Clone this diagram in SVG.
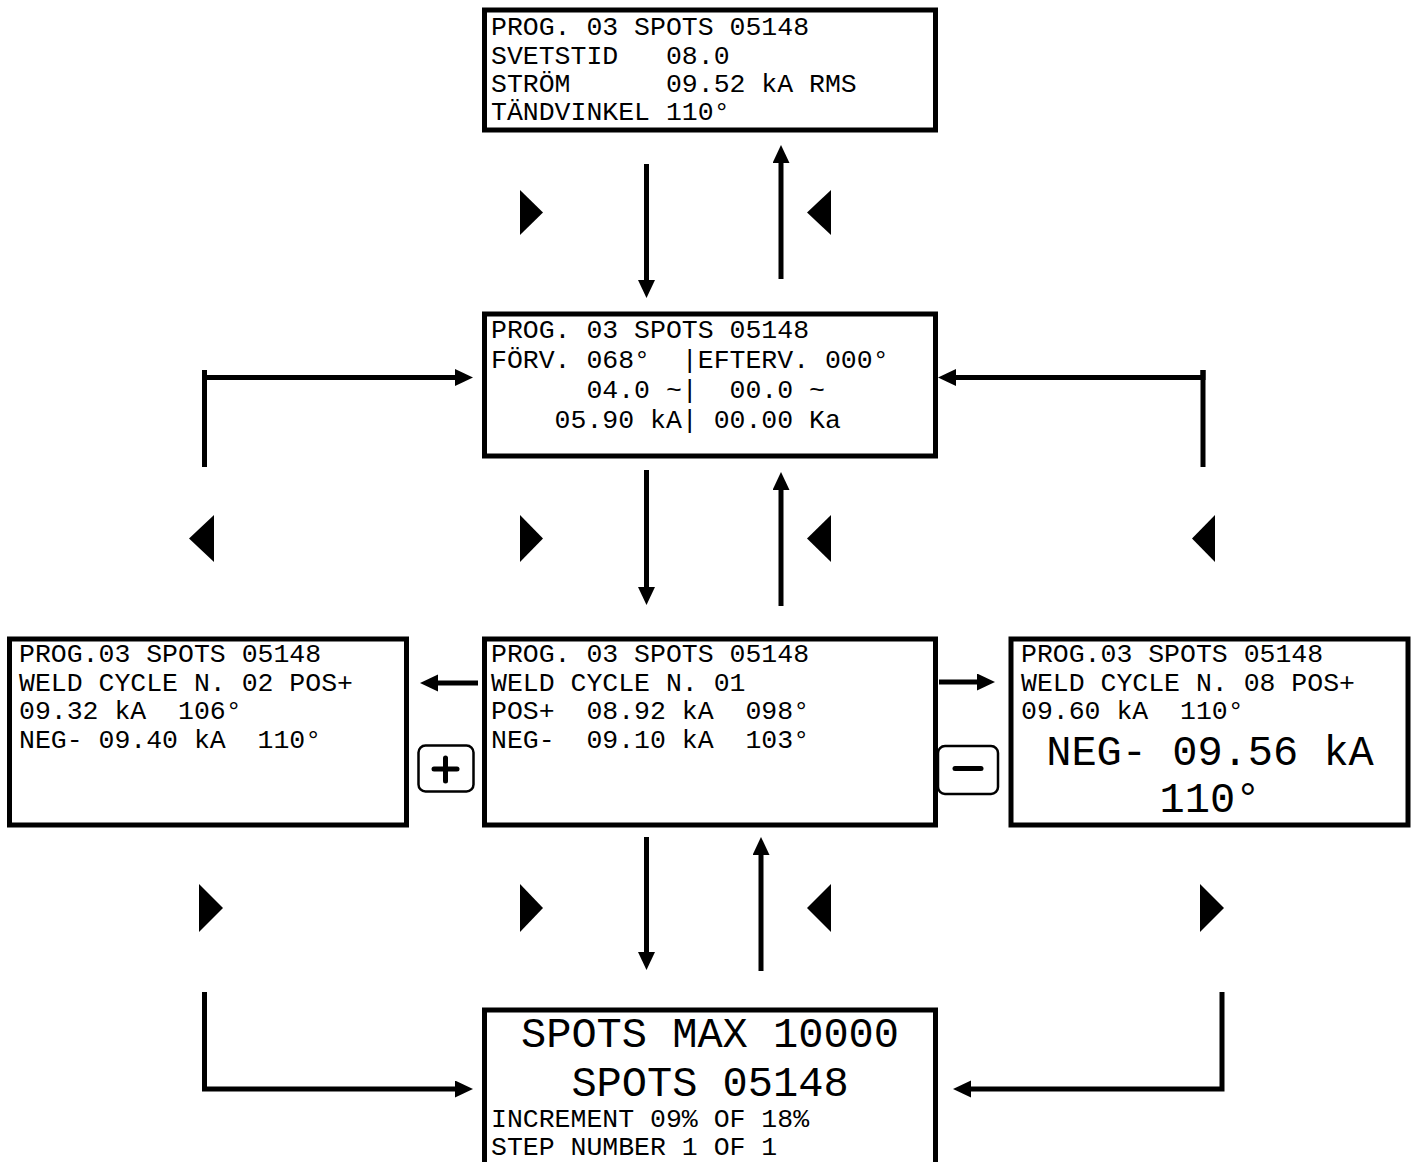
<svg xmlns="http://www.w3.org/2000/svg" width="1411" height="1162" viewBox="0 0 1411 1162">
<style>
.box{fill:#fff;stroke:#000;stroke-width:5}
.t{font-family:"Liberation Mono","Courier New",monospace;font-size:26.5px;fill:#000;white-space:pre}
.big{font-family:"Liberation Mono","Courier New",monospace;font-size:42px;fill:#000;white-space:pre;text-anchor:middle}
.c{fill:none;stroke:#000;stroke-width:5}
.tri{fill:#000}
.btn{fill:#fff;stroke:#000;stroke-width:2.5}
.sym{stroke:#000;stroke-width:5;stroke-linecap:round}
</style>
<defs>
<marker id="ah" markerUnits="userSpaceOnUse" markerWidth="20" markerHeight="18" refX="2" refY="8.5" orient="auto">
<path d="M0,0 L18,8.5 L0,17 z" fill="#000"/>
</marker>
</defs>
<rect width="1411" height="1162" fill="#fff"/>

<g id="connectors">
<line class="c" x1="646.5" y1="164" x2="646.5" y2="282" marker-end="url(#ah)"/>
<line class="c" x1="781" y1="279" x2="781" y2="161" marker-end="url(#ah)"/>
<line class="c" x1="646.5" y1="470" x2="646.5" y2="589" marker-end="url(#ah)"/>
<line class="c" x1="781" y1="606" x2="781" y2="488" marker-end="url(#ah)"/>
<line class="c" x1="646.5" y1="837" x2="646.5" y2="954" marker-end="url(#ah)"/>
<line class="c" x1="761" y1="971" x2="761" y2="853" marker-end="url(#ah)"/>
<polyline class="c" points="204.5,370 204.5,377.5 457,377.5" marker-end="url(#ah)"/>
<line class="c" x1="204.5" y1="370" x2="204.5" y2="467"/>
<polyline class="c" points="1203,370 1203,377.5 954,377.5" marker-end="url(#ah)"/>
<line class="c" x1="1203" y1="370" x2="1203" y2="467"/>
<line class="c" x1="478" y1="683" x2="436" y2="683" marker-end="url(#ah)"/>
<line class="c" x1="939" y1="682" x2="979" y2="682" marker-end="url(#ah)"/>
<polyline class="c" points="204.5,992 204.5,1089 457,1089" marker-end="url(#ah)"/>
<polyline class="c" points="1222,992 1222,1089 969,1089" marker-end="url(#ah)"/>
<polygon class="tri" points="520,190 543,212.5 520,235"/>
<polygon class="tri" points="831,190 807,212.5 831,235"/>
<polygon class="tri" points="520,515 543,538.5 520,562"/>
<polygon class="tri" points="831,515 807,538.5 831,562"/>
<polygon class="tri" points="214,515 189,538.5 214,562"/>
<polygon class="tri" points="1215,515 1192,538.5 1215,562"/>
<polygon class="tri" points="199,884 223,908 199,932"/>
<polygon class="tri" points="520,884 543,908 520,932"/>
<polygon class="tri" points="831,884 807,908 831,932"/>
<polygon class="tri" points="1200,884 1224,908 1200,932"/>
</g>

<g id="node-top">
<rect class="box" x="484.5" y="10" width="451" height="120"/>
<text class="t" x="491" y="35">PROG. 03 SPOTS 05148</text>
<text class="t" x="491" y="63.5">SVETSTID   08.0</text>
<text class="t" x="491" y="92">STRÖM      09.52 kA RMS</text>
<text class="t" x="491" y="120">TÄNDVINKEL 110°</text>
</g>

<g id="node-second">
<rect class="box" x="484.5" y="314" width="451" height="142"/>
<text class="t" x="491" y="338">PROG. 03 SPOTS 05148</text>
<text class="t" x="491" y="368">FÖRV. 068°  |EFTERV. 000°</text>
<text class="t" x="491" y="398">      04.0 ~|  00.0 ~</text>
<text class="t" x="491" y="428">    05.90 kA| 00.00 Ka</text>
</g>

<g id="node-left">
<rect class="box" x="9.5" y="639" width="397" height="186"/>
<text class="t" x="19" y="662">PROG.03 SPOTS 05148</text>
<text class="t" x="19" y="691">WELD CYCLE N. 02 POS+</text>
<text class="t" x="19" y="719">09.32 kA  106°</text>
<text class="t" x="19" y="748">NEG- 09.40 kA  110°</text>
</g>

<g id="node-center">
<rect class="box" x="484.5" y="639" width="451" height="186"/>
<text class="t" x="491" y="662">PROG. 03 SPOTS 05148</text>
<text class="t" x="491" y="691">WELD CYCLE N. 01</text>
<text class="t" x="491" y="719">POS+  08.92 kA  098°</text>
<text class="t" x="491" y="748">NEG-  09.10 kA  103°</text>
</g>

<g id="node-right">
<rect class="box" x="1011" y="639" width="397" height="186"/>
<text class="t" x="1021" y="662">PROG.03 SPOTS 05148</text>
<text class="t" x="1021" y="691">WELD CYCLE N. 08 POS+</text>
<text class="t" x="1021" y="719">09.60 kA  110°</text>
<text class="big" x="1210" y="765">NEG- 09.56 kA</text>
<text class="big" x="1210" y="812">110°</text>
</g>

<g id="node-bottom">
<rect class="box" x="484.5" y="1010" width="451" height="200"/>
<text class="big" x="710" y="1047">SPOTS MAX 10000</text>
<text class="big" x="710" y="1096">SPOTS 05148</text>
<text class="t" x="491" y="1127">INCREMENT 09% OF 18%</text>
<text class="t" x="491" y="1155">STEP NUMBER 1 OF 1</text>
</g>

<g id="button-plus">
<rect class="btn" x="418.5" y="745.5" width="55" height="46" rx="7"/>
<line class="sym" x1="434" y1="769" x2="457" y2="769"/>
<line class="sym" x1="445.5" y1="758" x2="445.5" y2="781"/>
</g>

<g id="button-minus">
<rect class="btn" x="938" y="746" width="60" height="48" rx="7"/>
<line class="sym" x1="955" y1="768.5" x2="981" y2="768.5"/>
</g>
</svg>
